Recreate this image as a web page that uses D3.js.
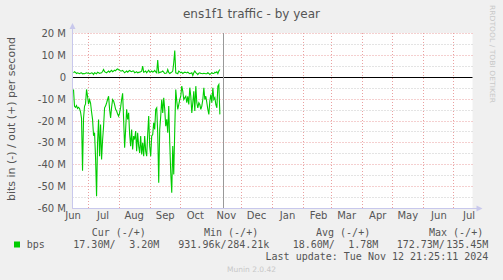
<!DOCTYPE html>
<html><head><meta charset="utf-8">
<script src="https://cdn.jsdelivr.net/npm/d3@7/dist/d3.min.js"></script>
<style>
html,body{margin:0;padding:0;background:#f0f0f0;}
svg{display:block;}
</style></head><body>
<svg id="c" width="503" height="280"></svg>
<script>
// ---------------- data ----------------
const chartTitle = "ens1f1 traffic - by year";
const yAxisTitle = "bits in (-) / out (+) per second";
const sideText = "RRDTOOL / TOBI OETIKER";
const footerText = "Munin 2.0.42";
const seriesName = "bps";
const seriesStart = Date.UTC(2024, 5, 17);       // first daily sample
const axisStart = Date.UTC(2024, 5, 16);
const axisEnd = Date.UTC(2025, 6, 20);
const nowTime = Date.UTC(2024, 10, 12, 21, 25, 11);

// bits in (negated), millions per second, one per day
const inValues = [-5.8,-13.5,-14,-13.2,-14.5,-14,-14.5,-16,-19,-43,-19,-13.5,-12.4,-5.8,-9,-12.5,-10.5,-12,-16,-19.5,
-27,-25.6,-37,-54.6,-30,-19.5,-36.3,-21.8,-37.8,-29,-22.6,-14.2,-13.4,-12,-10.4,-8.9,-14.9,-18.8,-14,-10.4,
-11.1,-12.7,-14.9,-15.7,-17,-18,-16.5,-14,-10.4,-7.6,
-19.5,-32.5,-24.1,-14.9,-19.5,-16.5,-26.4,-31.7,-24.1,-33.2,-27.1,-28.7,-24.8,-34,-25.6,-31.7,-34.8,-27.1,-35.5,-30.2,
-36.3,-27.1,-34,-36.3,-26.4,-18,-31.7,-36.3,-27.1,-26.4,-21,-24.1,-14.9,-14.2,-25.6,-48.5,-24.1,-18,-10.4,-16.5,
-9.6,-14.9,-22.6,-19.5,-25.6,-13.4,-30.2,-43.9,-53,-31.7,-44.7,-24.1,-5.8,-11.1,-14.9,-12.7,-10.4,-8.9,-4.3,-6.6,
-10.4,-9.6,-8.9,-11.9,-8.9,-12.7,-5,-8.9,-16.5,-11.9,-6.6,-15.7,-4.3,-11.9,-14.2,-11.9,-12.7,-14.9,-13.4,-10.4,
-5,-10.4,-8.9,-11.9,-14.9,-17.2,-11.1,-8.1,-11.9,-5,-10.4,-9.6,-12.7,-14.2,-4.3,-3.5,-17.2];

// bits out, millions per second, one per day
const outValues = [1.8,2.3,2.0,1.5,1.8,1.6,1.4,1.7,1.8,1.3,1.5,1.4,1.6,1.8,1.6,1.7,1.4,1.5,1.8,1.6,
1.0,1.8,1.6,1.4,2.1,1.8,1.5,1.7,1.8,2.4,3.3,2.3,2.0,1.8,2.2,2.6,2.1,2.5,2.9,2.3,
2.6,3.0,2.7,3.3,3.6,3.2,3.0,2.6,2.6,2.9,2.4,1.8,2.2,2.6,2.1,2.5,2.9,2.5,2.3,2.6,
2.6,1.8,2.0,2.3,1.8,2.0,2.1,2.3,2.6,4.9,2.1,2.3,2.6,1.8,2.4,3.0,2.1,2.3,2.6,2.1,
2.4,2.9,2.2,1.8,7.6,1.8,2.0,2.1,2.3,2.6,2.1,1.5,1.6,1.8,3.3,2.0,1.5,1.8,2.1,2.6,
6.4,12.0,1.8,1.6,1.4,2.6,2.2,1.8,2.1,1.5,1.8,2.1,1.9,1.8,2.1,1.7,1.4,1.6,1.8,0.6,
1.8,2.6,1.9,1.5,1.0,1.6,1.8,1.5,1.5,1.4,1.6,1.5,1.4,1.4,1.8,1.5,1.0,1.4,1.8,1.5,
1.5,2.1,1.8,2.3,1.4,2.6,3.3];

const yTickValues = [-60,-50,-40,-30,-20,-10,0,10,20];
const yTickLabels = ["-60 M","-50 M","-40 M","-30 M","-20 M","-10 M","0","10 M","20 M"];
const yMinorValues = [-55,-45,-35,-25,-15,-5,5,15];

const legendHeaders = ["Cur (-/+)","Min (-/+)","Avg (-/+)","Max (-/+)"];
const legendInText = ["17.30M/","931.96k/","18.60M/","172.73M/"];
const legendOutText = ["3.20M","284.21k","1.78M","135.45M"];
const lastUpdate = "Last update: Tue Nov 12 21:25:11 2024";

// ---------------- layout ----------------
const svg = d3.select("#c");
const L = 72.5, R = 472.5, T = 33, B = 208;
const x = d3.scaleUtc().domain([axisStart, axisEnd]).range([L, R]);
const y = d3.scaleLinear().domain([-60, 20]).range([B, T]);
const py = v => Math.round(y(v)) + 0.5;
const px = t => Math.round(x(t)) + 0.5;

const textCol = "#555";
const sans = "'DejaVu Sans', sans-serif";
const mono = "'DejaVu Sans Mono', monospace";

// plot background
svg.append("rect").attr("x", L).attr("y", T).attr("width", R - L).attr("height", B - T).attr("fill", "#fff");

// minor horizontal grid
svg.append("g").selectAll("line").data(yMinorValues).join("line")
  .attr("x1", L).attr("x2", R).attr("y1", py).attr("y2", py)
  .attr("stroke", "#c8c8c8").attr("stroke-dasharray", "1,2");

// major horizontal grid
svg.append("g").selectAll("line").data(yTickValues.filter(v => v !== 0)).join("line")
  .attr("x1", L).attr("x2", R).attr("y1", py).attr("y2", py)
  .attr("stroke", "#eaa0a0").attr("stroke-dasharray", "1,2");

// month grid
const months = d3.utcMonth.range(new Date(axisStart), new Date(axisEnd));
svg.append("g").selectAll("line").data(months).join("line")
  .attr("x1", px).attr("x2", px).attr("y1", T).attr("y2", B)
  .attr("stroke", "#eaa0a0").attr("stroke-dasharray", "1,2");

// data
const day = 86400000;
const inData = inValues.map((v, i) => ({ t: seriesStart + i * day, v }));
const outData = outValues.map((v, i) => ({ t: seriesStart + i * day, v }));
const line = d3.line().x(d => x(d.t)).y(d => y(d.v));
svg.append("path").datum(inData).attr("d", line).attr("fill", "none").attr("stroke", "#00cc00").attr("stroke-width", 1.1);
svg.append("path").datum(outData).attr("d", line).attr("fill", "none").attr("stroke", "#00cc00").attr("stroke-width", 1.1);

// zero line
svg.append("line").attr("x1", L).attr("x2", R).attr("y1", py(0)).attr("y2", py(0)).attr("stroke", "#000");

// now line
svg.append("line").attr("x1", px(nowTime)).attr("x2", px(nowTime)).attr("y1", T).attr("y2", B)
  .attr("stroke", "#999").attr("stroke-width", 1);

// axes lines + arrows
const axCol = "#c8c8ec";
svg.append("line").attr("x1", L).attr("x2", L).attr("y1", B + 0.5).attr("y2", T - 5).attr("stroke", axCol);
svg.append("line").attr("x1", L).attr("x2", R + 5).attr("y1", B + 0.5).attr("y2", B + 0.5).attr("stroke", axCol);
svg.append("path").attr("d", `M${L - 3},${T - 4}L${L + 3},${T - 4}L${L},${T - 10}Z`).attr("fill", axCol);
svg.append("path").attr("d", `M${R + 4},${B - 2.5}L${R + 4},${B + 3.5}L${R + 10},${B + 0.5}Z`).attr("fill", axCol);

// y axis labels
const yAxis = d3.axisLeft(y).tickValues(yTickValues)
  .tickFormat((d, i) => yTickLabels[i]).tickSize(0).tickPadding(0);
const gy = svg.append("g").attr("transform", `translate(66,0)`).call(yAxis);
gy.select(".domain").remove();
gy.selectAll("text").attr("font-family", sans).attr("font-size", 10).attr("fill", textCol).attr("dy", "0.36em");

// x axis labels (centered on month middles)
const labelDates = d3.utcMonth.range(new Date(Date.UTC(2024, 5, 1)), new Date(Date.UTC(2025, 6, 2)))
  .map(d => new Date(d.getTime() + 15 * day));
const xAxis = d3.axisBottom(x).tickValues(labelDates).tickFormat(d3.utcFormat("%b")).tickSize(0).tickPadding(0);
const gx = svg.append("g").attr("transform", `translate(0,212)`).call(xAxis);
gx.select(".domain").remove();
gx.selectAll("text").attr("font-family", sans).attr("font-size", 10).attr("fill", textCol).attr("dy", "0.71em");

// title
svg.append("text").attr("x", 251.5).attr("y", 17.5).attr("text-anchor", "middle")
  .attr("font-family", sans).attr("font-size", 12).attr("fill", textCol).text(chartTitle);

// y axis title
svg.append("text").attr("transform", "translate(14.5,119) rotate(-90)").attr("text-anchor", "middle")
  .attr("font-family", sans).attr("font-size", 11).attr("fill", textCol).text(yAxisTitle);

// side text
svg.append("text").attr("transform", "translate(490,5) rotate(90)")
  .attr("font-family", sans).attr("font-size", 7).attr("fill", "#c8c8c8")
  .attr("textLength", 98).attr("lengthAdjust", "spacingAndGlyphs").text(sideText);

// legend
const headerX = [91.7, 204, 316, 429];
const inX = [73.3, 178.3, 292.7, 396.7];
const outEndX = [159.3, 269.3, 378.3, 488.3];
const lg = svg.append("g").attr("font-family", mono).attr("font-size", 10).attr("fill", textCol);
lg.selectAll("text.h").data(legendHeaders).join("text").attr("class", "h")
  .attr("x", (d, i) => headerX[i]).attr("y", 236).text(d => d);
lg.selectAll("text.i").data(legendInText).join("text").attr("class", "i")
  .attr("x", (d, i) => inX[i]).attr("y", 247.5).text(d => d);
lg.selectAll("text.o").data(legendOutText).join("text").attr("class", "o")
  .attr("x", (d, i) => outEndX[i]).attr("y", 247.5).attr("text-anchor", "end").text(d => d);
lg.append("text").attr("x", 26.7).attr("y", 247.5).text(seriesName);
lg.append("text").attr("x", 488.3).attr("y", 259.5).attr("text-anchor", "end").text(lastUpdate);
svg.append("rect").attr("x", 14).attr("y", 241.5).attr("width", 6).attr("height", 6).attr("fill", "#00cc00");

svg.append("text").attr("x", 251.5).attr("y", 271.5).attr("text-anchor", "middle")
  .attr("font-family", sans).attr("font-size", 7.5).attr("fill", "#c8c8c8").text(footerText);
</script>
</body></html>
